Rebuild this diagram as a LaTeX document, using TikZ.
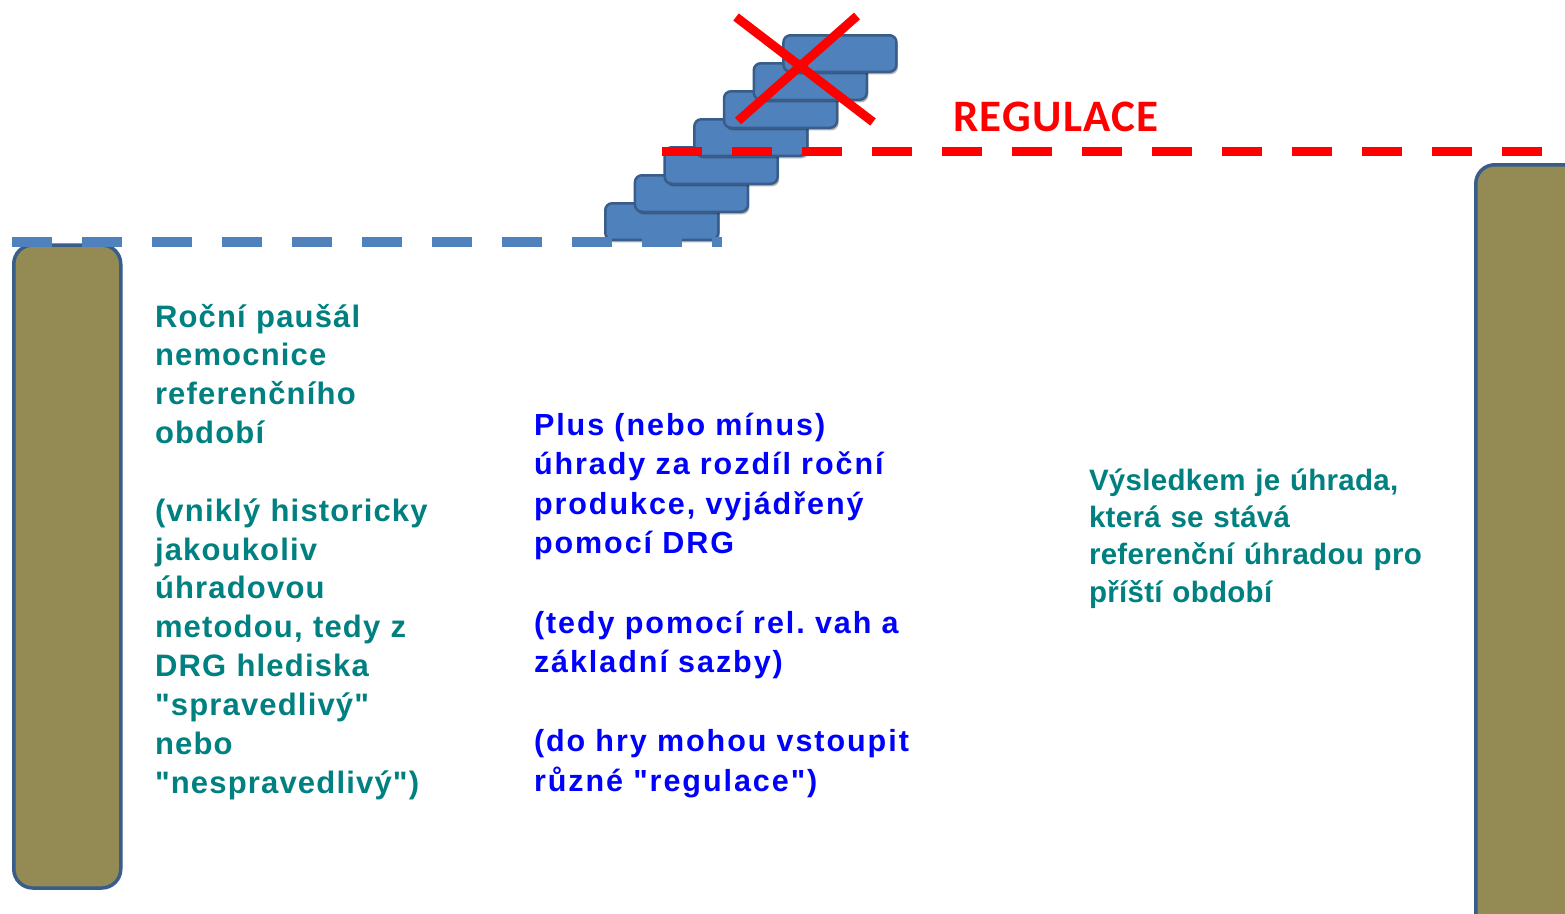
\documentclass[tikz,border=0pt]{standalone}
\usepackage{fontspec}
\setmainfont{Liberation Sans}
\newfontfamily\regfont[LetterSpace=3]{Carlito}
\newfontfamily\leftfont[LetterSpace=3.8]{Liberation Sans}
\newfontfamily\bluefont[LetterSpace=6.4]{Liberation Sans}
\newfontfamily\rightfont[LetterSpace=1]{Liberation Sans}
\usetikzlibrary{shadows}
\frenchspacing
\definecolor{olivefill}{RGB}{148,138,84}
\definecolor{steelborder}{RGB}{56,93,138}
\definecolor{stairblue}{RGB}{79,129,189}
\definecolor{tealtext}{RGB}{0,128,128}
\definecolor{bluetext}{RGB}{0,0,255}
\definecolor{redline}{RGB}{255,0,0}
\tikzset{
  pillar/.style={draw=steelborder, fill=olivefill, line width=3.5pt, rounded corners=19pt,
    anchor=north west, inner sep=0pt, outer sep=0pt},
  stairbox/.style={draw=steelborder, fill=stairblue, line width=2.5pt, rounded corners=7pt,
    minimum width=113pt, minimum height=36.5pt, anchor=north west, inner sep=0pt,
    drop shadow={shadow xshift=1.5pt, shadow yshift=-2.5pt, opacity=0.3, fill=black}},
  bluedash/.style={draw=stairblue, line width=10pt, dash pattern=on 40pt off 30pt},
  reddash/.style={draw=redline, line width=9.5pt, dash pattern=on 40pt off 30pt},
  cross/.style={draw=redline, line width=9pt},
  txt/.style={anchor=base west, inner sep=0pt, outer sep=0pt, align=left, text width=430pt},
}
\begin{document}
\begin{tikzpicture}[x=1pt,y=-1pt]
\clip (0,0) rectangle (1565,913);
\fill[white] (0,0) rectangle (1565,913);
% pillars
\node[pillar, minimum width=107pt, minimum height=643pt] (leftpillar) at (13.75,245) {};
\node[pillar, minimum width=200pt, minimum height=900pt] (rightpillar) at (1475.75,164.75) {};
% stairs
\foreach \i in {0,...,6}{
  \node[stairbox] (s\i) at ({604+29.7*\i},{202-28*\i}) {};
}
% dashed levels
\coordinate (bl) at (12,242.3);
\coordinate (br) at (722,242.3);
\draw[bluedash] (bl) -- (br);
\coordinate (rl) at (662,151.5);
\coordinate (rr) at (1542,151.5);
\draw[reddash] (rl) -- (rr);
% red cross
\coordinate (xa1) at (736,17);
\coordinate (xb1) at (873,122);
\coordinate (xa2) at (857,16);
\coordinate (xb2) at (738,121);
\draw[cross] (xa1) -- (xb1);
\draw[cross] (xa2) -- (xb2);
% label
\node[anchor=base west, inner sep=0pt, text=redline, font=\regfont\bfseries\fontsize{45}{50}\selectfont] (reg) at (953,131) {REGULACE};
% texts
\node[txt, text=tealtext, font=\leftfont\bfseries\fontsize{31}{38.85}\selectfont] (lefttext) at (155,327)
{Roční paušál\\ nemocnice\\ referenčního\\ období\\[38.85pt]
(vniklý historicky\\ jakoukoliv\\ úhradovou\\ metodou, tedy z\\ DRG hlediska\\ "spravedlivý"\\ nebo\\ "nespravedlivý")};
\node[txt, text=bluetext, font=\bluefont\bfseries\fontsize{30.5}{39.6}\selectfont] (midtext) at (534,435)
{Plus (nebo mínus)\\ úhrady za rozdíl roční\\ produkce, vyjádřený\\ pomocí DRG\\[39.6pt]
(tedy pomocí rel. vah a\\ základní sazby)\\[39.6pt]
(do hry mohou vstoupit\\ různé "regulace")};
\node[txt, text=tealtext, font=\rightfont\bfseries\fontsize{29.5}{37.2}\selectfont] (righttext) at (1089,490.5)
{Výsledkem je úhrada,\\ která se stává\\ referenční úhradou pro\\ příští období};
\end{tikzpicture}
\end{document}
